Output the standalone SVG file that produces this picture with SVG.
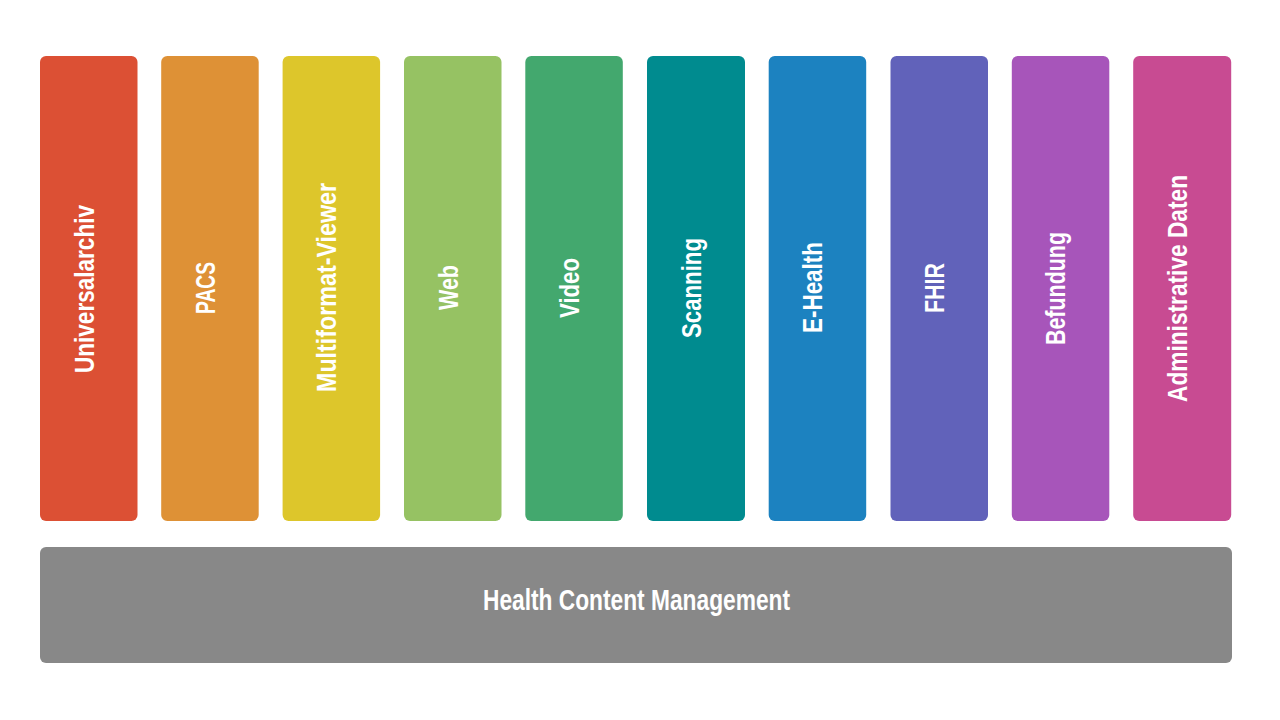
<svg xmlns="http://www.w3.org/2000/svg" width="1280" height="720" viewBox="0 0 1280 720">
<style>
.col{rx:6px;ry:6px}
.lbl{font-family:"Liberation Sans",Arial,sans-serif;font-weight:700;font-size:28px;fill:#ffffff;text-anchor:middle}
.base{font-family:"Liberation Sans",Arial,sans-serif;font-weight:700;font-size:29px;fill:#ffffff;text-anchor:middle}
</style>
<rect width="1280" height="720" fill="#ffffff"/>
<g id="n1"><rect class="col" x="40" y="56" width="97.5" height="465" fill="#DC5034"/><text class="lbl" transform="translate(93.5,289) rotate(-90)" textLength="168" lengthAdjust="spacingAndGlyphs">Universalarchiv</text></g>
<g id="n2"><rect class="col" x="161.2" y="56" width="97.5" height="465" fill="#DE9136"/><text class="lbl" transform="translate(214.7,288) rotate(-90)" textLength="52" lengthAdjust="spacingAndGlyphs">PACS</text></g>
<g id="n3"><rect class="col" x="282.6" y="56" width="97.5" height="465" fill="#DDC62B"/><text class="lbl" transform="translate(336.1,287.5) rotate(-90)" textLength="209" lengthAdjust="spacingAndGlyphs">Multiformat-Viewer</text></g>
<g id="n4"><rect class="col" x="404" y="56" width="97.5" height="465" fill="#96C263"/><text class="lbl" transform="translate(457.5,287.5) rotate(-90)" textLength="45" lengthAdjust="spacingAndGlyphs">Web</text></g>
<g id="n5"><rect class="col" x="525.3" y="56" width="97.5" height="465" fill="#43A86E"/><text class="lbl" transform="translate(578.8,288) rotate(-90)" textLength="60" lengthAdjust="spacingAndGlyphs">Video</text></g>
<g id="n6"><rect class="col" x="647" y="56" width="98" height="465" fill="#008B8F"/><text class="lbl" transform="translate(701,288) rotate(-90)" textLength="100" lengthAdjust="spacingAndGlyphs">Scanning</text></g>
<g id="n7"><rect class="col" x="768.7" y="56" width="97.5" height="465" fill="#1C82C0"/><text class="lbl" transform="translate(822.2,287.5) rotate(-90)" textLength="91" lengthAdjust="spacingAndGlyphs">E-Health</text></g>
<g id="n8"><rect class="col" x="890.5" y="56" width="97.5" height="465" fill="#6162BA"/><text class="lbl" transform="translate(944,288) rotate(-90)" textLength="50" lengthAdjust="spacingAndGlyphs">FHIR</text></g>
<g id="n9"><rect class="col" x="1011.8" y="56" width="97.5" height="465" fill="#A755BA"/><text class="lbl" transform="translate(1065.3,288.5) rotate(-90)" textLength="113" lengthAdjust="spacingAndGlyphs">Befundung</text></g>
<g id="n10"><rect class="col" x="1133.2" y="56" width="98" height="465" fill="#C84B92"/><text class="lbl" transform="translate(1187.2,288.5) rotate(-90)" textLength="227" lengthAdjust="spacingAndGlyphs">Administrative Daten</text></g>
<g id="base"><rect class="col" x="40" y="547" width="1192" height="116" fill="#888888"/><text class="base" x="636.5" y="610" textLength="307" lengthAdjust="spacingAndGlyphs">Health Content Management</text></g>
<g id="connectors"></g>
</svg>
